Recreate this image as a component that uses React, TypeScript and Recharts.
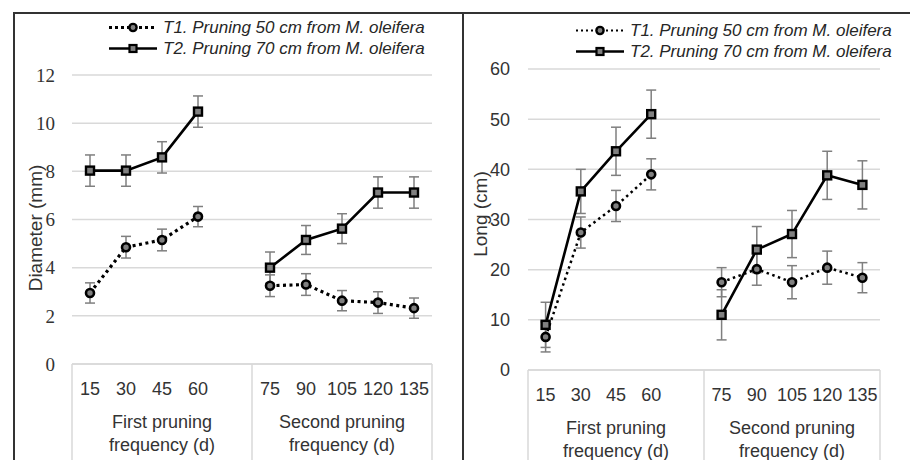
import React from 'react';
import { LineChart, Line, XAxis, YAxis, CartesianGrid, ErrorBar, Legend } from 'recharts';

// categories (blank slot separates the two pruning periods)
const days = ['15', '30', '45', '60', '', '75', '90', '105', '120', '135'];
const groups = [
  { start: 0, lines: ['First pruning', 'frequency (d)'] },
  { start: 5, lines: ['Second pruning', 'frequency (d)'] },
];
const seriesNames = ['T1. Pruning 50 cm from M. oleifera', 'T2. Pruning 70 cm from M. oleifera'];

// stem diameter (mm)
const diamT1 = [2.95, 4.85, 5.15, 6.12, null, 3.25, 3.3, 2.63, 2.55, 2.32];
const diamT1Err = [0.42, 0.45, 0.45, 0.42, null, 0.45, 0.45, 0.42, 0.45, 0.42];
const diamT2 = [8.03, 8.03, 8.58, 10.48, null, 4.0, 5.15, 5.62, 7.12, 7.12];
const diamT2Err = [0.65, 0.65, 0.65, 0.65, null, 0.65, 0.6, 0.62, 0.65, 0.65];
const diamTicks = [0, 2, 4, 6, 8, 10, 12];

// stem length (cm)
const longT1 = [6.6, 27.4, 32.7, 39.0, null, 17.5, 20.1, 17.5, 20.4, 18.4];
const longT1Err = [3.0, 3.1, 3.1, 3.1, null, 2.9, 3.2, 3.3, 3.3, 3.0];
const longT2 = [9.0, 35.6, 43.6, 51.0, null, 11.0, 24.0, 27.1, 38.8, 36.9];
const longT2Err = [4.5, 4.4, 4.8, 4.8, null, 5.0, 4.6, 4.7, 4.8, 4.8];
const longTicks = [0, 10, 20, 30, 40, 50, 60];

const diamData = days.map((day, i) => ({
  day, t1: diamT1[i], t1Err: diamT1Err[i], t2: diamT2[i], t2Err: diamT2Err[i],
}));
const longData = days.map((day, i) => ({
  day, t1: longT1[i], t1Err: longT1Err[i], t2: longT2[i], t2Err: longT2Err[i],
}));

const SANS = '"Liberation Sans", Arial, sans-serif';
const SERIF = '"Liberation Serif", "Times New Roman", serif';
const TXT = '#333';
const GRID = '#d9d9d9';
const ERR = '#7f7f7f';

function CircleDot(p: any) {
  if (p.cx == null || p.cy == null || p.value == null) return null;
  return <circle key={p.key} cx={p.cx} cy={p.cy} r={4} fill="#808080" stroke="#000" strokeWidth={2.6} />;
}

function SquareDot(p: any) {
  if (p.cx == null || p.cy == null || p.value == null) return null;
  return <rect key={p.key} x={p.cx - 4} y={p.cy - 4} width={8} height={8} fill="#808080" stroke="#000" strokeWidth={2.4} />;
}

function makeGroupTick(half: number, depth: number) {
  return function GroupTick(props: any) {
    const { x, y, payload } = props;
    const i = props.index ?? payload.index;
    const g = groups.find((gr) => gr.start + 2 === i);
    const last = days.length - 1;
    return (
      <g>
        {payload.value !== '' && (
          <text x={x} y={y + 31} textAnchor="middle" fontFamily={SANS} fontSize={18} fill={TXT}>
            {payload.value}
          </text>
        )}
        {groups.some((gr) => gr.start === i) && (
          <line x1={x - half} x2={x - half} y1={y} y2={y + depth} stroke={GRID} strokeWidth={1.5} />
        )}
        {i === last && (
          <line x1={x + half} x2={x + half} y1={y} y2={y + depth} stroke={GRID} strokeWidth={1.5} />
        )}
        {g && (
          <text textAnchor="middle" fontFamily={SANS} fontSize={18} fill={TXT}>
            <tspan x={x} y={y + 64}>{g.lines[0]}</tspan>
            <tspan x={x} y={y + 87}>{g.lines[1]}</tspan>
          </text>
        )}
      </g>
    );
  };
}

function makeLegend(heavy: boolean) {
  return function LegendBox() {
    return (
      <div style={{ fontFamily: SANS, fontSize: 17, fontStyle: 'italic', color: '#262626', whiteSpace: 'nowrap' }}>
        {seriesNames.map((name, k) => (
          <div key={name} style={{ display: 'flex', alignItems: 'center', height: 21 }}>
            <svg width={50} height={21} style={{ display: 'block' }}>
              {k === 0 ? (
                <>
                  <line x1={1} x2={49} y1={10.5} y2={10.5} stroke="#000"
                    strokeWidth={heavy ? 3 : 2} strokeDasharray={heavy ? '3 3' : '2 3'} />
                  <circle cx={25} cy={10.5} r={3.6} fill="#808080" stroke="#000" strokeWidth={2.4} />
                </>
              ) : (
                <>
                  <line x1={1} x2={49} y1={10.5} y2={10.5} stroke="#000" strokeWidth={2.5} />
                  <rect x={21.5} y={7} width={7} height={7} fill="#808080" stroke="#000" strokeWidth={2.2} />
                </>
              )}
            </svg>
            <span style={{ marginLeft: 5 }}>{name}</span>
          </div>
        ))}
      </div>
    );
  };
}

function axisTitle(text: string, dx: number, dy: number) {
  return (p: any) => {
    const vb = p.viewBox;
    const cx = vb.x + dx;
    const cy = vb.y + vb.height / 2 + dy;
    return (
      <text x={cx} y={cy} transform={`rotate(-90 ${cx} ${cy})`} textAnchor="middle"
        dominantBaseline="central" fontFamily={SANS} fontSize={19} fill={TXT}>
        {text}
      </text>
    );
  };
}

interface PanelProps {
  data: any[];
  width: number;
  top: number;
  xAxisHeight: number;
  yAxisWidth: number;
  ticks: number[];
  tickFont: string;
  tickSize: number;
  tickGap: number;
  title: string;
  titleDx: number;
  titleDy: number;
  legendLeft: number;
  legendTop: number;
  heavyDots: boolean;
}

function Panel(p: PanelProps) {
  const height = 448;
  const plotW = p.width - p.yAxisWidth - 30;
  const half = plotW / days.length / 2;
  return (
    <LineChart width={p.width} height={height} data={p.data}
      margin={{ top: p.top, right: 30, bottom: 0, left: 0 }}>
      <CartesianGrid vertical={false} stroke={GRID} strokeWidth={1.5} />
      <XAxis dataKey="day" scale="band" interval={0} height={p.xAxisHeight}
        axisLine={{ stroke: GRID, strokeWidth: 1.5 }} tickLine={false} tickSize={0} tickMargin={0}
        tick={makeGroupTick(half, p.xAxisHeight)} />
      <YAxis domain={[0, p.ticks[p.ticks.length - 1]]} ticks={p.ticks} width={p.yAxisWidth}
        axisLine={false} tickLine={false} tickSize={0} tickMargin={p.tickGap}
        tick={{ fontFamily: p.tickFont, fontSize: p.tickSize, fill: TXT }}
        label={axisTitle(p.title, p.titleDx, p.titleDy)} />
      <Legend layout="horizontal" verticalAlign="middle" align="center"
        wrapperStyle={{ top: p.legendTop, left: p.legendLeft, width: 'auto', bottom: 'auto' }}
        content={makeLegend(p.heavyDots)} />
      <Line dataKey="t1" name={seriesNames[0]} stroke="#000" strokeWidth={p.heavyDots ? 3.2 : 2.5}
        strokeDasharray={p.heavyDots ? '3 3.5' : '2.5 3.5'} dot={CircleDot} activeDot={false}
        isAnimationActive={false}>
        <ErrorBar dataKey="t1Err" direction="y" width={5} stroke={ERR} strokeWidth={1.5} />
      </Line>
      <Line dataKey="t2" name={seriesNames[1]} stroke="#000" strokeWidth={2.6}
        dot={SquareDot} activeDot={false} isAnimationActive={false}>
        <ErrorBar dataKey="t2Err" direction="y" width={5} stroke={ERR} strokeWidth={1.5} />
      </Line>
    </LineChart>
  );
}

export default function App() {
  return (
    <div style={{ position: 'absolute', left: 0, top: 0, width: 910, height: 460, background: '#fff', overflow: 'hidden' }}>
      <div style={{ position: 'absolute', left: 13, top: 12 }}>
        <Panel data={diamData} width={449} top={63} xAxisHeight={96} yAxisWidth={59}
          ticks={diamTicks} tickFont={SERIF} tickSize={19} tickGap={17}
          title="Diameter (mm)" titleDx={22} titleDy={8.5}
          legendLeft={95} legendTop={5} heavyDots />
      </div>
      <div style={{ position: 'absolute', left: 463, top: 12 }}>
        <Panel data={longData} width={447} top={57} xAxisHeight={90} yAxisWidth={65}
          ticks={longTicks} tickFont={SANS} tickSize={18} tickGap={18}
          title="Long (cm)" titleDx={17} titleDy={-5.5}
          legendLeft={112} legendTop={8} heavyDots={false} />
      </div>
      <div style={{ position: 'absolute', left: 13, top: 12, width: 897, height: 2, background: '#333' }} />
      <div style={{ position: 'absolute', left: 13, top: 12, width: 2, height: 448, background: '#333' }} />
      <div style={{ position: 'absolute', left: 462, top: 12, width: 2, height: 448, background: '#333' }} />
    </div>
  );
}
